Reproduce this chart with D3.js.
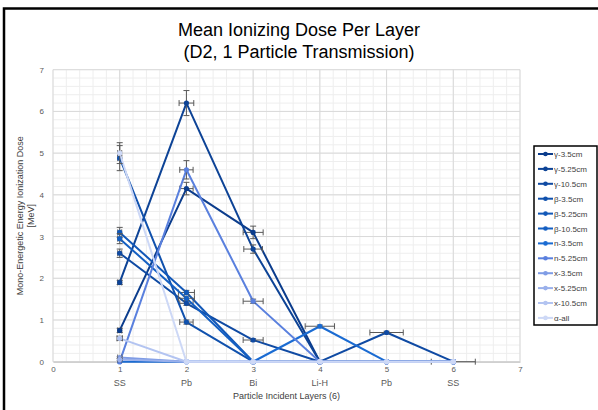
<!DOCTYPE html>
<html>
<head>
<meta charset="utf-8">
<script src="https://cdn.jsdelivr.net/npm/d3@7"></script>
<style>
  body { margin: 0; background: #fff; }
  text { font-family: "Liberation Sans", Arial, sans-serif; }
</style>
</head>
<body>
<div id="main"></div>
<script>
// layers hit by the particle, x = 1..6
var layers = ["SS", "Pb", "Bi", "Li-H", "Pb", "SS"];
var xTicks = [0, 1, 2, 3, 4, 5, 6, 7];
var yTicks = [0, 1, 2, 3, 4, 5, 6, 7];

var seriesNames = ["γ-3.5cm", "γ-5.25cm", "γ-10.5cm", "β-3.5cm", "β-5.25cm", "β-10.5cm",
                   "n-3.5cm", "n-5.25cm", "x-3.5cm", "x-5.25cm", "x-10.5cm", "α-all"];

// mean dose per layer (MeV)
var gamma35  = [0.75, 4.15, 3.1, 0, 0, 0];
var gamma525 = [1.9, 6.2, 2.7, 0, 0, 0];
var gamma105 = [2.6, 1.4, 0.52, 0, 0.7, 0];
var beta35   = [4.88, 0.95, 0, 0, 0, 0];
var beta525  = [3.1, 1.66, 0, 0, 0, 0];
var beta105  = [2.95, 1.52, 0, 0, 0, 0];
var n35      = [0, 0, 0, 0.85, 0, 0];
var n525     = [0, 4.6, 1.45, 0, 0, 0];
var x35      = [0.1, 0, 0, 0, 0, 0];
var x525     = [0.05, 0, 0, 0, 0, 0];
var x105     = [0.56, 0, 0, 0, 0, 0];
var alphaAll = [5.0, 0, 0, 0, 0, 0];

// vertical error (dose) and horizontal error (layer)
var yErr = [
  [0.05, 0.15, 0.15, 0, 0, 0],
  [0.05, 0.3, 0.1, 0, 0, 0],
  [0.1, 0.05, 0.03, 0, 0.03, 0],
  [0.3, 0.05, 0, 0, 0, 0],
  [0.12, 0.05, 0, 0, 0, 0],
  [0.12, 0.05, 0, 0, 0, 0],
  [0, 0, 0, 0.03, 0, 0],
  [0, 0.22, 0.05, 0, 0, 0],
  [0.02, 0, 0, 0, 0, 0],
  [0.02, 0, 0, 0, 0, 0],
  [0.05, 0, 0, 0, 0, 0],
  [0.25, 0, 0, 0, 0, 0]
];
var xErr = [
  [0.03, 0.1, 0.15, 0, 0, 0],
  [0.03, 0.11, 0.14, 0, 0, 0],
  [0.03, 0.1, 0.15, 0, 0.25, 0.33],
  [0.03, 0.1, 0, 0, 0, 0],
  [0.03, 0.12, 0, 0, 0, 0],
  [0.03, 0.12, 0, 0, 0, 0],
  [0, 0, 0, 0.22, 0, 0],
  [0, 0.1, 0.15, 0, 0, 0],
  [0.03, 0, 0, 0, 0, 0],
  [0.03, 0, 0, 0, 0, 0],
  [0.04, 0, 0, 0, 0, 0],
  [0.03, 0, 0, 0, 0, 0]
];

var allSeries = [gamma35, gamma525, gamma105, beta35, beta525, beta105,
                 n35, n525, x35, x525, x105, alphaAll];

var colors = ["#0b3c8c", "#0d4396", "#0f4aa3", "#1051ad", "#1258b8", "#145fc2",
              "#1a6bd2", "#5a80de", "#7f9ce5", "#9ab0eb", "#b3c4f1", "#cdd8f6"];

var ctx = { w: 598, h: 410, left: 53, right: 520, top: 69.7, bottom: 361.7 };

var svg = d3.select("#main").append("svg")
  .attr("width", ctx.w).attr("height", ctx.h);

// frame around the chart
svg.append("rect").attr("x", 4).attr("y", 8.5)
  .attr("width", 620).attr("height", 420)
  .attr("fill", "none").attr("stroke", "#000").attr("stroke-width", 2.5);

var x = d3.scaleLinear().domain([0, 7]).range([ctx.left, ctx.right]);
var y = d3.scaleLinear().domain([0, 7]).range([ctx.bottom, ctx.top]);

// minor grid every 0.2
var minor = d3.range(0, 7.001, 0.2);
var grid = svg.append("g");
grid.selectAll(".mx").data(minor).enter().append("line")
  .attr("x1", d => x(d)).attr("x2", d => x(d))
  .attr("y1", y(0)).attr("y2", y(7))
  .attr("stroke", "#eeeeee").attr("stroke-width", 1);
grid.selectAll(".my").data(minor).enter().append("line")
  .attr("x1", x(0)).attr("x2", x(7))
  .attr("y1", d => y(d)).attr("y2", d => y(d))
  .attr("stroke", "#eeeeee").attr("stroke-width", 1);
// major grid
grid.selectAll(".Mx").data(xTicks).enter().append("line")
  .attr("x1", d => x(d)).attr("x2", d => x(d))
  .attr("y1", y(0)).attr("y2", y(7))
  .attr("stroke", "#d9d9d9").attr("stroke-width", 1);
grid.selectAll(".My").data(yTicks).enter().append("line")
  .attr("x1", x(0)).attr("x2", x(7))
  .attr("y1", d => y(d)).attr("y2", d => y(d))
  .attr("stroke", "#d9d9d9").attr("stroke-width", 1);

// x axis
var xAxis = svg.append("g")
  .attr("transform", `translate(0,${ctx.bottom})`)
  .call(d3.axisBottom(x).tickValues(xTicks).tickFormat(d3.format("d")).tickSize(0).tickPadding(5));
xAxis.select(".domain").attr("stroke", "#bfbfbf");
xAxis.selectAll("text").attr("font-size", 8).attr("fill", "#595959");

// y axis
var yAxis = svg.append("g")
  .attr("transform", `translate(${ctx.left},0)`)
  .call(d3.axisLeft(y).tickValues(yTicks).tickFormat(d3.format("d")).tickSize(0).tickPadding(9));
yAxis.select(".domain").remove();
yAxis.selectAll("text").attr("font-size", 8).attr("fill", "#595959");

// layer names under the ticks
svg.append("g").selectAll("text").data(layers).enter().append("text")
  .attr("x", (d, i) => x(i + 1)).attr("y", 386)
  .attr("text-anchor", "middle").attr("font-size", 9).attr("fill", "#595959")
  .text(d => d);

// axis titles
svg.append("text").attr("x", (ctx.left + ctx.right) / 2).attr("y", 399)
  .attr("text-anchor", "middle").attr("font-size", 9).attr("fill", "#404040")
  .text("Particle Incident Layers (6)");
var yt = svg.append("text")
  .attr("transform", `translate(23,${(ctx.top + ctx.bottom) / 2}) rotate(-90)`)
  .attr("text-anchor", "middle").attr("font-size", 9).attr("fill", "#404040");
yt.append("tspan").attr("x", 0).attr("dy", 0).text("Mono-Energetic Energy Ionization Dose");
yt.append("tspan").attr("x", 0).attr("dy", 10.5).text("[MeV]");

// chart title
var title = svg.append("text").attr("text-anchor", "middle")
  .attr("font-size", 18).attr("fill", "#000");
title.append("tspan").attr("x", 299).attr("y", 36).text("Mean Ionizing Dose Per Layer");
title.append("tspan").attr("x", 299).attr("y", 58).text("(D2, 1 Particle Transmission)");

// series
var line = d3.line().x((d, i) => x(i + 1)).y(d => y(d));
var plot = svg.append("g");
allSeries.forEach(function(vals, s) {
  var g = plot.append("g");
  g.append("path").datum(vals).attr("d", line)
    .attr("fill", "none").attr("stroke", colors[s])
    .attr("stroke-width", 2).attr("stroke-linejoin", "round");
  // error bars
  vals.forEach(function(v, i) {
    var ey = yErr[s][i], ex = xErr[s][i], cx = x(i + 1), cy = y(v);
    if (ey > 0) {
      g.append("line").attr("x1", cx).attr("x2", cx)
        .attr("y1", y(v - ey)).attr("y2", y(v + ey))
        .attr("stroke", "#595959").attr("stroke-width", 1);
      [v - ey, v + ey].forEach(function(e) {
        g.append("line").attr("x1", cx - 3).attr("x2", cx + 3)
          .attr("y1", y(e)).attr("y2", y(e))
          .attr("stroke", "#595959").attr("stroke-width", 1);
      });
    }
    if (ex > 0) {
      g.append("line").attr("x1", x(i + 1 - ex)).attr("x2", x(i + 1 + ex))
        .attr("y1", cy).attr("y2", cy)
        .attr("stroke", "#595959").attr("stroke-width", 1);
      [i + 1 - ex, i + 1 + ex].forEach(function(e) {
        g.append("line").attr("x1", x(e)).attr("x2", x(e))
          .attr("y1", cy - 3).attr("y2", cy + 3)
          .attr("stroke", "#595959").attr("stroke-width", 1);
      });
    }
  });
  g.selectAll("circle").data(vals).enter().append("circle")
    .attr("cx", (d, i) => x(i + 1)).attr("cy", d => y(d))
    .attr("r", 2.6).attr("fill", colors[s]);
});

// legend
var lg = svg.append("g");
lg.append("rect").attr("x", 534).attr("y", 146).attr("width", 63).attr("height", 179)
  .attr("fill", "#fff").attr("stroke", "#000").attr("stroke-width", 1.5);
var items = lg.selectAll(".it").data(seriesNames).enter().append("g")
  .attr("transform", (d, i) => `translate(538,${154 + i * 14.9})`);
items.append("line").attr("x1", 0).attr("x2", 15).attr("y1", 0).attr("y2", 0)
  .attr("stroke", (d, i) => colors[i]).attr("stroke-width", 2);
items.append("circle").attr("cx", 7.5).attr("cy", 0).attr("r", 2.3)
  .attr("fill", (d, i) => colors[i]);
items.append("text").attr("x", 16).attr("y", 3).attr("font-size", 8)
  .attr("fill", "#404040").text(d => d);
</script>
</body>
</html>
